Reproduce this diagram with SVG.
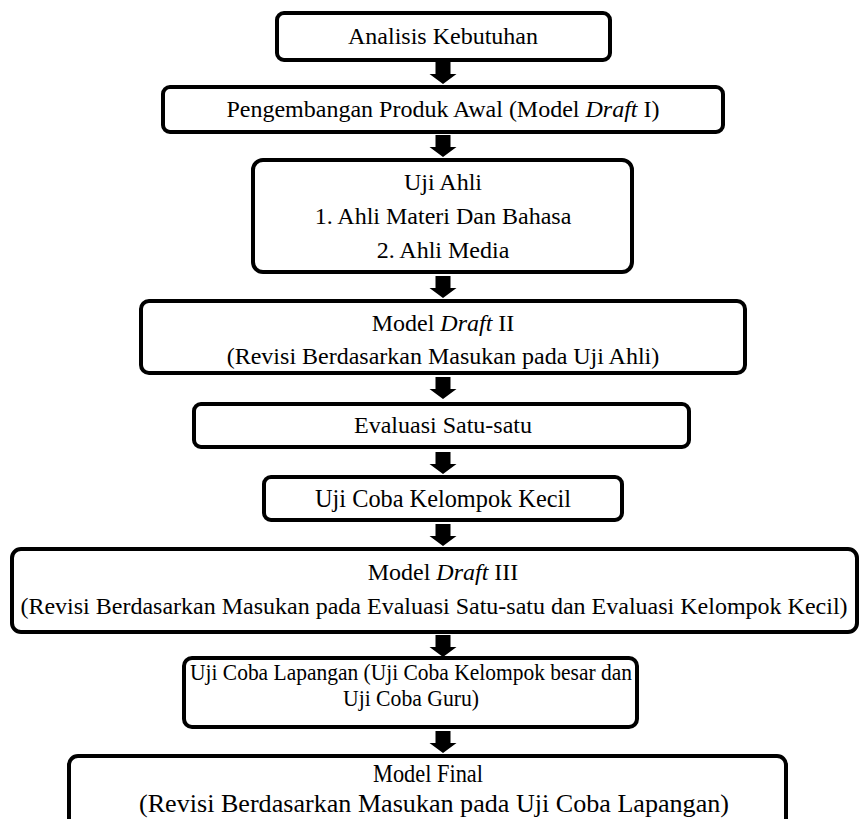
<svg xmlns="http://www.w3.org/2000/svg" xmlns:xlink="http://www.w3.org/1999/xlink" width="861" height="819" viewBox="0 0 861 819">
<style>
.box{fill:#fff;stroke:#000;stroke-width:4}
.i{font-style:italic}
.arr{fill:#000}
</style>
<defs>
<polygon id="ar" points="-7.5,0 7.5,0 7.5,12 13.5,12 0,22 -13.5,12 -7.5,12"/>
</defs>
<rect width="861" height="819" fill="#fff"/>
<g id="connectors" class="arr">
<use xlink:href="#ar" x="443" y="62"/>
<use xlink:href="#ar" x="443" y="135"/>
<use xlink:href="#ar" x="443" y="276"/>
<use xlink:href="#ar" x="443" y="377"/>
<use xlink:href="#ar" x="443" y="452"/>
<use xlink:href="#ar" x="443" y="524"/>
<use xlink:href="#ar" x="443" y="635"/>
<use xlink:href="#ar" x="443" y="731"/>
</g>
<g font-family="Liberation Serif" font-size="24" text-anchor="middle" fill="#000">
<g id="n1"><rect class="box" x="277" y="13" width="333" height="47" rx="7"/><text x="443" y="44">Analisis Kebutuhan</text></g>
<g id="n2"><rect class="box" x="163" y="87" width="560" height="45" rx="7"/><text x="443" y="117">Pengembangan Produk Awal (Model <tspan class="i">Draft</tspan> I)</text></g>
<g id="n3"><rect class="box" x="253" y="160" width="379" height="112" rx="10"/><text x="443" y="190">Uji Ahli</text><text x="443" y="224">1. Ahli Materi Dan Bahasa</text><text x="443" y="258">2. Ahli Media</text></g>
<g id="n4"><rect class="box" x="141" y="301" width="604" height="72" rx="8"/><text x="443" y="331">Model <tspan class="i">Draft</tspan> II</text><text x="443" y="364">(Revisi Berdasarkan Masukan pada Uji Ahli)</text></g>
<g id="n5"><rect class="box" x="194" y="404" width="495" height="43" rx="7"/><text x="443" y="433">Evaluasi Satu-satu</text></g>
<g id="n6"><rect class="box" x="264" y="477" width="358" height="43" rx="7"/><text x="443" y="507" font-size="25" textLength="256" lengthAdjust="spacingAndGlyphs">Uji Coba Kelompok Kecil</text></g>
<g id="n7"><rect class="box" x="12" y="549" width="845" height="83" rx="9"/><text x="443" y="580">Model <tspan class="i">Draft</tspan> III</text><text x="434" y="614">(Revisi Berdasarkan Masukan pada Evaluasi Satu-satu dan Evaluasi Kelompok Kecil)</text></g>
<g id="n8"><rect class="box" x="184" y="658" width="453" height="69" rx="8"/><text x="411" y="680" font-size="23" textLength="442" lengthAdjust="spacingAndGlyphs">Uji Coba Lapangan (Uji Coba Kelompok besar dan</text><text x="411" y="706" font-size="23" textLength="136" lengthAdjust="spacingAndGlyphs">Uji Coba Guru)</text></g>
<g id="n9"><rect class="box" x="69" y="756" width="717" height="80" rx="9"/><text x="428" y="782" font-size="25" textLength="110" lengthAdjust="spacingAndGlyphs">Model Final</text><text x="434" y="812" font-size="25" textLength="590" lengthAdjust="spacingAndGlyphs">(Revisi Berdasarkan Masukan pada Uji Coba Lapangan)</text></g>
</g>
</svg>
